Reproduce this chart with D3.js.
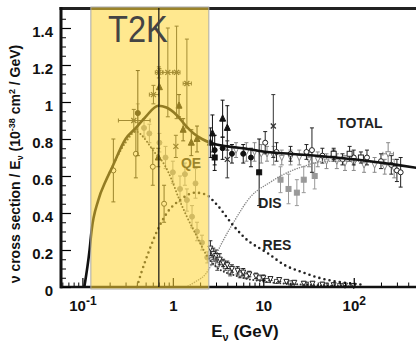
<!DOCTYPE html>
<html>
<head>
<meta charset="utf-8">
<script src="https://cdn.jsdelivr.net/npm/d3@7"></script>
<style>
  body { margin: 0; background: #fff; }
  svg { display: block; }
  text { font-family: "Liberation Sans", Arial, Helvetica, sans-serif; }
</style>
</head>
<body>
<div id="chart"></div>
<script>
// ---- theory curves: [E (GeV), sigma/E] ----
const totalCurve = [[0.105, 0], [0.12, 0.2], [0.126, 0.3], [0.15, 0.47], [0.18, 0.57], [0.21, 0.64], [0.3, 0.8],
  [0.39, 0.86], [0.5, 0.92], [0.69, 0.98], [0.85, 0.97], [1.1, 0.93], [1.4, 0.87], [1.7, 0.83], [2.1, 0.8],
  [2.6, 0.78], [4, 0.76], [6, 0.75], [11, 0.73], [20, 0.72], [63, 0.7], [150, 0.68], [300, 0.66], [560, 0.64]];
const qeCurve = [[0.2, 0.62], [0.3, 0.78], [0.39, 0.84], [0.51, 0.79], [0.6, 0.74], [0.81, 0.66], [0.97, 0.58],
  [1.14, 0.49], [1.43, 0.38], [1.86, 0.27], [2.3, 0.18], [3, 0.11], [5, 0.06], [10, 0.03], [30, 0.012], [100, 0.004]];
const resCurve = [[0.4, 0], [0.45, 0.08], [0.55, 0.2], [0.68, 0.31], [0.86, 0.4], [1.2, 0.47], [1.77, 0.51],
  [2.3, 0.5], [3, 0.45], [4.7, 0.33], [6.1, 0.27], [11.4, 0.18], [17, 0.12], [27, 0.08], [41, 0.05], [90, 0.02], [130, 0.012]];
const disCurve = [[1.4, 0], [1.8, 0.03], [2.3, 0.07], [2.6, 0.11], [3.5, 0.24], [4.7, 0.35], [7.3, 0.49],
  [11.4, 0.56], [17, 0.61], [27, 0.65], [50, 0.68], [100, 0.68], [300, 0.66], [560, 0.64]];

// ---- data points: [E, value, yErr, (Elo, Ehi)] ----
const crossPts = [[0.88, 1.16, 0.24, 0.78, 1.0], [1.1, 1.16, 0.25, 1.0, 1.2], [1.43, 1.1, 0.24, 1.3, 1.6],
  [0.7, 1.16, 0.03, 0.64, 0.77], [0.61, 1.04, 0.05, 0.55, 0.7], [0.37, 0.9, 0.06, 0.25, 0.56],
  [1.08, 0.76, 0.06], [4.0, 0.69, 0.1], [12.9, 0.87, 0.17]];
const filledTri = [[0.71, 1.08, 0.1], [1.17, 0.98, 0.06], [1.3, 0.85, 0.06], [1.6, 0.78, 0.07], [1.85, 0.8, 0.07],
  [0.69, 0.7, 0.05], [2.6, 0.78, 0.08], [2.74, 0.83, 0.1], [3.55, 0.91, 0.1], [4.0, 0.86, 0.12]];
const filledCirc = [[0.41, 0.94, 0.23], [2.9, 0.74, 0.08], [3.55, 0.75, 0.06], [4.5, 0.72, 0.05], [6.0, 0.72, 0.05],
  [7.3, 0.7, 0.05]];
const filledSq = [[2.9, 0.7, 0.07], [9.0, 0.62, 0.18]];
const openCirc = [[0.22, 0.63, 0.17], [0.39, 0.72, 0.13], [0.6, 0.65, 0.1], [0.8, 0.45, 0.1],
  [10.5, 0.78, 0.06], [14, 0.73, 0.05], [20, 0.72, 0.04], [30, 0.73, 0.04], [34.5, 0.74, 0.12], [45, 0.71, 0.04],
  [60, 0.71, 0.03], [75, 0.69, 0.03], [100, 0.7, 0.04], [140, 0.7, 0.04], [200, 0.68, 0.04], [260, 0.66, 0.05],
  [300, 0.63, 0.06], [330, 0.62, 0.08]];
const openSq = [[60, 0.72, 0.03], [90, 0.72, 0.04], [120, 0.7, 0.03]];
const grayTri = [[5, 0.74, 0.04], [6.5, 0.73, 0.05], [8, 0.73, 0.05], [9.5, 0.72, 0.05], [11, 0.72, 0.04],
  [13, 0.71, 0.05], [16, 0.7, 0.04], [20, 0.7, 0.04], [25, 0.7, 0.04], [32, 0.69, 0.04], [40, 0.69, 0.04],
  [50, 0.68, 0.04], [65, 0.68, 0.04], [80, 0.67, 0.04], [100, 0.67, 0.04], [130, 0.66, 0.04], [170, 0.66, 0.04],
  [220, 0.65, 0.04], [280, 0.64, 0.05], [240, 0.72, 0.06, 210, 275]];
const graySq = [[15.5, 0.58, 0.07], [19, 0.53, 0.08], [23.5, 0.51, 0.07], [28, 0.58, 0.07], [37, 0.6, 0.07]];
const qeGray = [[0.41, 0.94, 0.05], [0.48, 0.86, 0.05], [0.55, 0.83, 0.05], [0.71, 0.78, 0.05], [0.83, 0.7, 0.06],
  [1.0, 0.62, 0.06], [1.2, 0.53, 0.07], [1.36, 0.61, 0.06], [1.43, 0.47, 0.06], [1.63, 0.38, 0.06], [1.78, 0.56, 0.08],
  [1.85, 0.3, 0.05], [2.1, 0.24, 0.04], [2.4, 0.16, 0.03]];
const qeLowA = [[2.6, 0.21, 0.04], [2.8, 0.18, 0.03], [3.0, 0.17, 0.03], [3.3, 0.15, 0.03], [3.6, 0.13, 0.02],
  [4.0, 0.12, 0.02], [4.5, 0.1, 0.02], [5.2, 0.09, 0.02], [6.0, 0.08, 0.02], [7.0, 0.07, 0.015], [8.3, 0.06, 0.015],
  [10, 0.05, 0.015], [12, 0.045, 0.01], [15, 0.04, 0.01], [18, 0.03, 0.01], [22, 0.025, 0.01], [28, 0.02, 0.01],
  [35, 0.02, 0.01], [45, 0.015, 0.01], [60, 0.012, 0.008], [80, 0.01, 0.008], [100, 0.008, 0.008]];
const qeLowB = [[2.7, 0.15, 0.03], [3.1, 0.12, 0.03], [3.8, 0.11, 0.02], [4.3, 0.08, 0.02], [5.5, 0.07, 0.02],
  [6.5, 0.06, 0.015], [9, 0.05, 0.015], [11, 0.035, 0.01], [14, 0.03, 0.01], [20, 0.022, 0.01], [30, 0.015, 0.01],
  [50, 0.01, 0.008], [70, 0.008, 0.008]];

// ---- axis ticks ----
const yMajor = [0, 0.2, 0.4, 0.6, 0.8, 1, 1.2, 1.4];
const xMajor = [0.1, 1, 10, 100];
const xLabels = [['10', '-1'], ['1', ''], ['10', ''], ['10', '2']];
const t2kBand = [0.124, 2.5];
const t2kPeak = 0.7;

const W = 416, H = 344;
const svg = d3.select('#chart').append('svg').attr('width', W).attr('height', H);

const x = d3.scaleLog().domain([0.058, 540]).range([61, 420]);
const y = d3.scaleLinear().domain([0, 1.5]).range([287, 9.5]);

const plot = svg.append('g');

// error bars + markers
function drawSeries(data, shape, color, size) {
  const g = plot.append('g').attr('stroke', color).attr('fill', 'none').attr('stroke-width', 1);
  data.forEach(d => {
    const cx = x(d[0]), cy = y(d[1]);
    if (d[2] > 0) {
      const y0 = y(Math.max(0, d[1] - d[2])), y1 = y(d[1] + d[2]);
      g.append('line').attr('x1', cx).attr('x2', cx).attr('y1', y0).attr('y2', y1);
      g.append('line').attr('x1', cx - 2).attr('x2', cx + 2).attr('y1', y0).attr('y2', y0);
      g.append('line').attr('x1', cx - 2).attr('x2', cx + 2).attr('y1', y1).attr('y2', y1);
    }
    if (d.length > 3) {
      const x0 = x(d[3]), x1 = x(d[4]);
      g.append('line').attr('x1', x0).attr('x2', x1).attr('y1', cy).attr('y2', cy);
      g.append('line').attr('x1', x0).attr('x2', x0).attr('y1', cy - 2).attr('y2', cy + 2);
      g.append('line').attr('x1', x1).attr('x2', x1).attr('y1', cy - 2).attr('y2', cy + 2);
    }
    const s = size;
    if (shape === 'circle' || shape === 'ocircle') {
      g.append('circle').attr('cx', cx).attr('cy', cy).attr('r', s / 2)
        .attr('fill', shape === 'circle' ? color : '#fff');
    } else if (shape === 'square' || shape === 'osquare') {
      g.append('rect').attr('x', cx - s / 2).attr('y', cy - s / 2).attr('width', s).attr('height', s)
        .attr('fill', shape === 'square' ? color : '#fff');
    } else if (shape === 'tri') {
      g.append('path').attr('d', `M${cx},${cy - s / 1.6}L${cx + s / 2},${cy + s / 2.4}L${cx - s / 2},${cy + s / 2.4}Z`)
        .attr('fill', color);
    } else if (shape === 'itri') {
      g.append('path').attr('d', `M${cx},${cy + s / 1.6}L${cx + s / 2},${cy - s / 2.4}L${cx - s / 2},${cy - s / 2.4}Z`)
        .attr('fill', '#fff');
    } else if (shape === 'cross') {
      g.append('path').attr('d', `M${cx - s / 2},${cy - s / 2}L${cx + s / 2},${cy + s / 2}M${cx - s / 2},${cy + s / 2}L${cx + s / 2},${cy - s / 2}`)
        .attr('stroke-width', 1.3);
    }
  });
}

drawSeries(qeLowB, 'osquare', '#555', 4);
drawSeries(qeLowA, 'itri', '#222', 5);
drawSeries(qeGray, 'circle', '#999', 5);
drawSeries(graySq, 'square', '#999', 5);
drawSeries(grayTri, 'itri', '#888', 5);
drawSeries(openCirc, 'ocircle', '#222', 5);
drawSeries(openSq, 'osquare', '#222', 5);
drawSeries(filledCirc, 'circle', '#111', 5);
drawSeries(filledSq, 'square', '#111', 5);
drawSeries(filledTri, 'tri', '#111', 6);
drawSeries(crossPts, 'cross', '#333', 5);

// theory curves
const line = d3.line().x(d => x(d[0])).y(d => y(d[1])).curve(d3.curveMonotoneX);
plot.append('path').datum(disCurve).attr('d', line).attr('fill', 'none')
  .attr('stroke', '#888').attr('stroke-width', 1.6).attr('stroke-dasharray', '0 2.4').attr('stroke-linecap', 'round');
plot.append('path').datum(resCurve).attr('d', line).attr('fill', 'none')
  .attr('stroke', '#222').attr('stroke-width', 2.6).attr('stroke-dasharray', '0 5.2').attr('stroke-linecap', 'round');
plot.append('path').datum(qeCurve).attr('d', line).attr('fill', 'none')
  .attr('stroke', '#333').attr('stroke-width', 2).attr('stroke-dasharray', '0 3.4').attr('stroke-linecap', 'round');
plot.append('path').datum(totalCurve).attr('d', line).attr('fill', 'none')
  .attr('stroke', '#111').attr('stroke-width', 2.6);

plot.append('text').attr('x', 191).attr('y', 168).attr('text-anchor', 'middle')
  .attr('font-size', 14).attr('font-weight', 'bold').attr('fill', '#222').text('QE');

// bottom axis (log), inward ticks
const minorX = [];
[0.01, 0.1, 1, 10, 100].forEach(dec => { for (let k = 2; k <= 9; k++) { const v = dec * k; if (v > 0.058 && v < 540) minorX.push(v); } });
svg.append('g').attr('transform', 'translate(0,287)')
  .call(d3.axisBottom(x).tickValues(minorX).tickSize(-4.5).tickFormat(''))
  .call(g => g.select('.domain').remove());
const xAx = svg.append('g').attr('transform', 'translate(0,287)')
  .call(d3.axisBottom(x).tickValues(xMajor).tickSize(-9).tickPadding(13).tickFormat(''))
  .call(g => g.select('.domain').remove());
xAx.selectAll('.tick line').attr('stroke-width', 1.2);
xAx.selectAll('.tick text').each(function (d, i) {
  const t = d3.select(this).attr('font-size', 15).attr('font-weight', 'bold').attr('fill', '#111')
    .attr('font-family', '"Liberation Sans", Arial, sans-serif');
  t.append('tspan').text(xLabels[i][0]);
  if (xLabels[i][1]) t.append('tspan').attr('dy', -6).attr('font-size', 12).text(xLabels[i][1]);
});

// frame top and bottom
svg.append('line').attr('x1', 59.5).attr('x2', W).attr('y1', 8.5).attr('y2', 8.5).attr('stroke', '#222').attr('stroke-width', 3);
svg.append('line').attr('x1', 60).attr('x2', W).attr('y1', 287).attr('y2', 287).attr('stroke', '#111').attr('stroke-width', 2.5);

// T2K band overlay
svg.append('rect').attr('x', x(t2kBand[0])).attr('y', 7).attr('width', x(t2kBand[1]) - x(t2kBand[0])).attr('height', 282)
  .attr('fill', '#ffd633').attr('fill-opacity', 0.55).attr('stroke', '#aaa').attr('stroke-width', 1);
svg.append('line').attr('x1', x(t2kPeak)).attr('x2', x(t2kPeak)).attr('y1', 8).attr('y2', 287)
  .attr('stroke', '#111').attr('stroke-width', 1.2);
svg.append('text').attr('transform', 'translate(108,42) scale(0.88,1)')
  .attr('font-size', 37).attr('fill', '#444').text('T2K');

// left axis
svg.append('g').attr('transform', 'translate(61,0)')
  .call(d3.axisLeft(y).tickValues(d3.range(0, 1.5, 0.05)).tickSize(-5).tickFormat(''))
  .call(g => g.select('.domain').remove());
const yAx = svg.append('g').attr('transform', 'translate(61,0)')
  .call(d3.axisLeft(y).tickValues(yMajor).tickSize(-10).tickPadding(8).tickFormat(d => d === 0 || d === 1 ? d : d.toFixed(1)))
  .call(g => g.select('.domain').remove());
yAx.selectAll('.tick text').attr('font-size', 15).attr('font-weight', 'bold').attr('fill', '#111')
  .attr('font-family', '"Liberation Sans", Arial, sans-serif').attr('dy', '0.55em');
yAx.selectAll('.tick line').attr('stroke-width', 1.2);
svg.append('line').attr('x1', 61).attr('x2', 61).attr('y1', 7).attr('y2', 288.2).attr('stroke', '#111').attr('stroke-width', 3);

// curve labels
const lab = (tx, ty, s) => svg.append('text').attr('x', tx).attr('y', ty).attr('text-anchor', 'middle')
  .attr('font-size', 14).attr('font-weight', 'bold').attr('fill', '#222').text(s);
lab(360, 128, 'TOTAL');
lab(270, 208, 'DIS');
lab(277, 250, 'RES');

// axis titles
const xt = svg.append('text').attr('x', 245).attr('y', 337).attr('text-anchor', 'middle')
  .attr('font-size', 17).attr('font-weight', 'bold').attr('fill', '#111');
xt.append('tspan').text('E');
xt.append('tspan').attr('dy', 4).attr('font-size', 11).text('ν');
xt.append('tspan').attr('dy', -4).text(' (GeV)');

const yt = svg.append('text').attr('transform', 'translate(20,164) rotate(-90)').attr('text-anchor', 'middle')
  .attr('font-size', 14).attr('font-weight', 'bold').attr('fill', '#111');
yt.append('tspan').text('ν cross section / E');
yt.append('tspan').attr('dy', 3).attr('font-size', 9).text('ν');
yt.append('tspan').attr('dy', -3).text(' (10');
yt.append('tspan').attr('dy', -5).attr('font-size', 9).text('-38');
yt.append('tspan').attr('dy', 5).text(' cm');
yt.append('tspan').attr('dy', -5).attr('font-size', 9).text('2');
yt.append('tspan').attr('dy', 5).text(' / GeV)');
</script>
</body>
</html>
